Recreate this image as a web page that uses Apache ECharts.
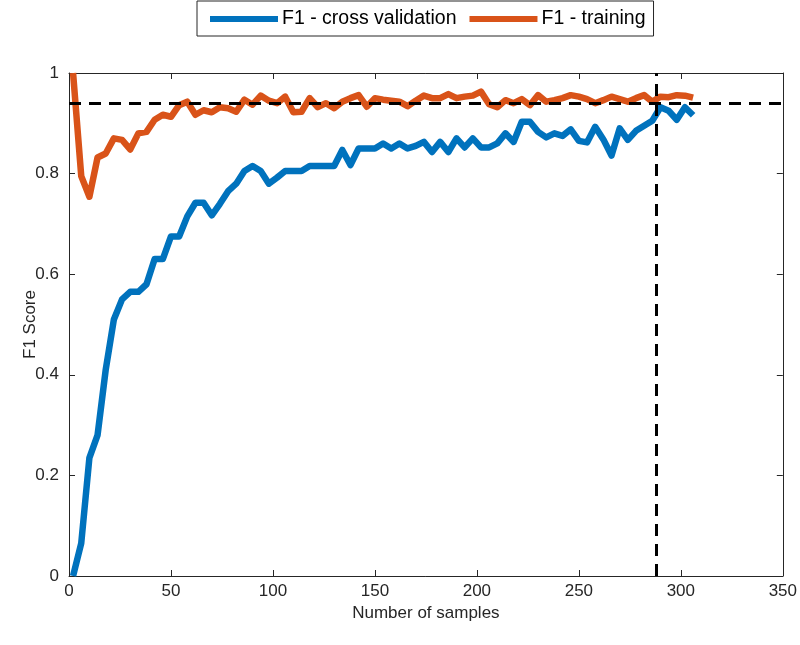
<!DOCTYPE html>
<html lang="en">
<head>
    <meta charset="UTF-8">
    <title>F1 score vs number of samples</title>
    <script src="https://cdn.jsdelivr.net/npm/echarts@6/dist/echarts.min.js"></script>
</head>
<body style="margin:0;background:#fff;">
    <div id="chart" style="width:800px;height:645px;"></div>

    <script>
        // number of training samples (step of 4)
        var samples = [];
        for (var s = 2; s <= 306; s += 4) samples.push(s);

        var f1Cross = [
            0.0, 0.065, 0.235, 0.28, 0.41, 0.51, 0.55, 0.565, 0.565, 0.58,
            0.63, 0.63, 0.675, 0.675, 0.715, 0.742, 0.742, 0.717, 0.74, 0.765,
            0.78, 0.805, 0.815, 0.805, 0.78, 0.792, 0.805, 0.805, 0.805, 0.815,
            0.815, 0.815, 0.815, 0.847, 0.817, 0.85, 0.85, 0.85, 0.86, 0.85,
            0.86, 0.85, 0.855, 0.863, 0.843, 0.863, 0.843, 0.87, 0.852, 0.87,
            0.852, 0.852, 0.86, 0.88, 0.863, 0.903, 0.903, 0.883, 0.872, 0.88,
            0.875, 0.888, 0.865, 0.862, 0.893, 0.868, 0.836, 0.89, 0.867, 0.885,
            0.895, 0.905, 0.932, 0.925, 0.907, 0.932, 0.916
        ];
        var f1Train = [
            1.0, 0.795, 0.754, 0.832, 0.840, 0.870, 0.867, 0.848, 0.880, 0.883,
            0.907, 0.917, 0.913, 0.936, 0.943, 0.917, 0.926, 0.922, 0.932, 0.930,
            0.923, 0.947, 0.937, 0.955, 0.945, 0.94, 0.953, 0.922, 0.923, 0.95,
            0.932, 0.94, 0.93, 0.943, 0.95, 0.956, 0.933, 0.95, 0.947, 0.945,
            0.943, 0.934, 0.945, 0.955, 0.95, 0.95, 0.958, 0.95, 0.953, 0.955,
            0.963, 0.938, 0.932, 0.946, 0.940, 0.948, 0.936, 0.956, 0.943, 0.946,
            0.950, 0.956, 0.953, 0.948, 0.94, 0.946, 0.953, 0.948, 0.943, 0.950,
            0.956, 0.943, 0.953, 0.952, 0.956, 0.955, 0.951
        ];

        var thresholdF1 = 0.94;     // horizontal dashed line
        var cutoffSamples = 288;    // vertical dashed line

        var xTicks = [0, 50, 100, 150, 200, 250, 300, 350];
        var yTicks = [0, 0.2, 0.4, 0.6, 0.8, 1];

        function pairs(xs, ys) {
            return xs.map(function (x, i) { return [x, ys[i]]; });
        }

        var axisColor = '#262626';
        var font = 'Liberation Sans, Arial, sans-serif';

        // shared look of the four box sides
        function boxAxis(extra) {
            var base = {
                type: 'value',
                axisLine: { show: true, onZero: false, lineStyle: { color: axisColor, width: 1 } },
                axisTick: { show: true, inside: true, length: 6, lineStyle: { color: axisColor } },
                splitLine: { show: false }
            };
            return Object.assign(base, extra);
        }

        var chart = echarts.init(document.getElementById('chart'));
        var option = {
            animation: false,
            legend: {
                top: 1,
                left: 197,
                padding: [8, 8, 7, 13],
                borderColor: axisColor,
                borderWidth: 1,
                itemWidth: 68,
                itemHeight: 6,
                itemGap: 13,
                icon: 'rect',
                textStyle: { fontFamily: font, fontSize: 19.5, color: '#000', padding: [0, 0, 0, -1] },
                data: ['F1 - cross validation', 'F1 - training']
            },
            grid: { left: 69, right: 17, top: 73, bottom: 69 },
            xAxis: [boxAxis({
                min: xTicks[0],
                max: xTicks[xTicks.length - 1],
                interval: 50,
                name: 'Number of samples',
                nameLocation: 'middle',
                nameMoveOverlap: false,
                nameGap: 29,
                nameTextStyle: { fontFamily: font, fontSize: 17, color: axisColor },
                axisLabel: { fontFamily: font, fontSize: 17, color: axisColor, margin: 7 }
            }), boxAxis({
                position: 'top',
                min: xTicks[0],
                max: xTicks[xTicks.length - 1],
                interval: 50,
                axisLabel: { show: false }
            })],
            yAxis: [boxAxis({
                min: yTicks[0],
                max: yTicks[yTicks.length - 1],
                interval: 0.2,
                name: 'F1 Score',
                nameLocation: 'middle',
                nameMoveOverlap: false,
                nameGap: 30,
                nameTextStyle: { fontFamily: font, fontSize: 17, color: axisColor },
                axisLabel: {
                    fontFamily: font, fontSize: 17, color: axisColor, margin: 10,
                    formatter: function (v) { return String(Math.round(v * 10) / 10); }
                }
            }), boxAxis({
                position: 'right',
                min: yTicks[0],
                max: yTicks[yTicks.length - 1],
                interval: 0.2,
                axisLabel: { show: false }
            })],
            series: [{
                name: 'F1 - cross validation',
                type: 'line',
                data: pairs(samples, f1Cross),
                showSymbol: false,
                color: '#0072BD',
                lineStyle: { width: 6.5, color: '#0072BD', join: 'round' },
                z: 3
            }, {
                name: 'F1 - training',
                type: 'line',
                data: pairs(samples, f1Train),
                showSymbol: false,
                color: '#D95319',
                lineStyle: { width: 6.5, color: '#D95319', join: 'round' },
                z: 2,
                markLine: {
                    silent: true,
                    symbol: 'none',
                    label: { show: false },
                    lineStyle: { color: '#000', width: 3, type: [12, 8] },
                    data: [
                        { yAxis: thresholdF1 },
                        { xAxis: cutoffSamples }
                    ]
                }
            }]
        };
        chart.setOption(option);
    </script>
</body>
</html>
